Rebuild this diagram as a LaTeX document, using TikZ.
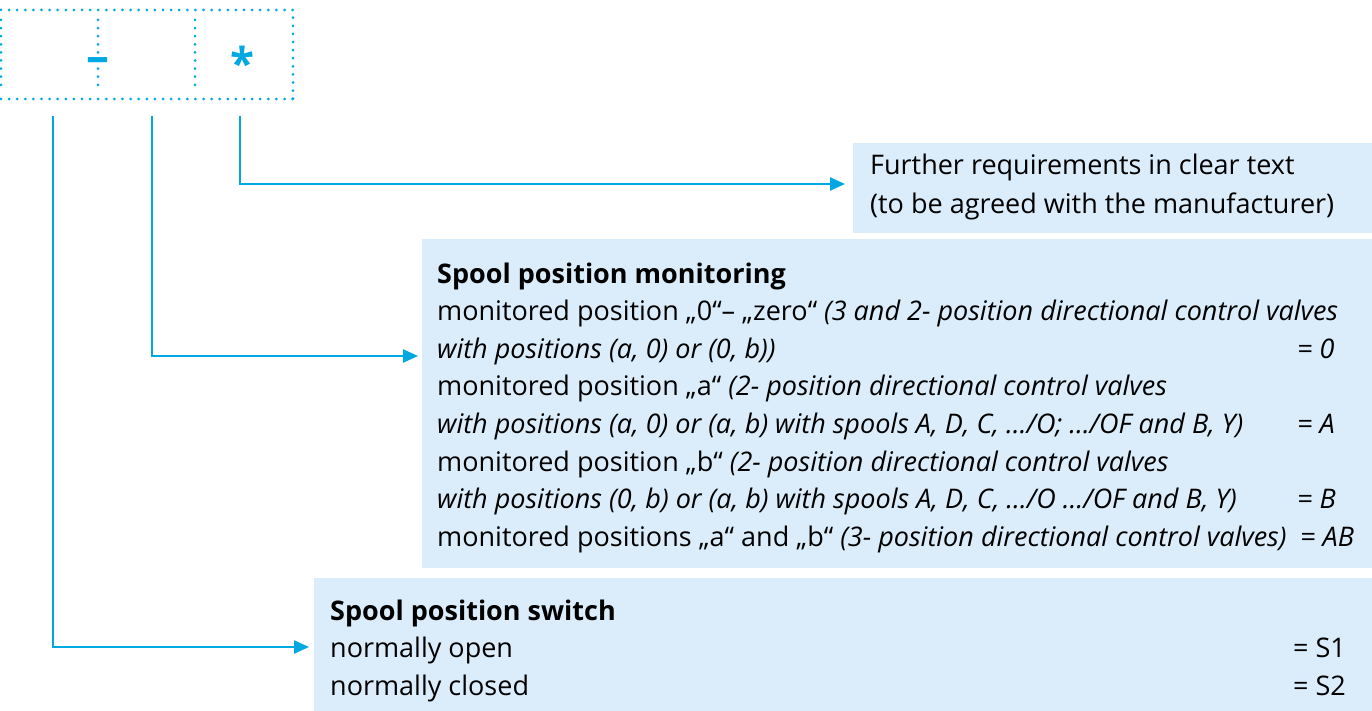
\documentclass[tikz,border=0pt]{standalone}
\usepackage{fontspec}
\setmainfont{Open Sans}
\usepackage{xcolor}
\usetikzlibrary{arrows.meta, positioning}

\definecolor{codeblue}{RGB}{0,168,226}
\definecolor{boxblue}{RGB}{219,237,250}

\begin{document}
\begin{tikzpicture}[x = 1pt, y = -1pt,
						link/.style = {draw = codeblue, line width = 2.4pt, -{Triangle[length = 15pt, width = 13pt]}},
						infobox/.style = {fill = boxblue, anchor = north west, inner sep = 0pt},
						txt/.style = {anchor = base west, inner sep = 0pt, font = \fontsize{27}{32}\selectfont},
						fielddots/.style = {draw = codeblue, line width = 3pt, line cap = round, dash pattern = on 0pt off 8.1pt},
						]
	
		% Page frame
		\useasboundingbox (0, 0) rectangle (1372, 711);
		
		% Code field
		\draw[fielddots] (1, 10) -- (293, 10) -- (293, 99);
		\draw[fielddots] (1, 99) -- (293, 99);
		\draw[fielddots] (1, 20) -- (1, 88);
		\draw[fielddots] (98, 20) -- (98, 88);
		\draw[fielddots] (195, 20) -- (195, 88);
		\node[text = codeblue, font = \fontsize{46}{46}\selectfont\bfseries] (dashsign) at (98, 65) {–};
		\node[text = codeblue, font = \fontsize{44}{44}\selectfont\bfseries] (starsign) at (242, 63) {*};
		
		% Connector start points
		\coordinate (fieldA) at (53, 116);
		\coordinate (fieldB) at (152, 116);
		\coordinate (fieldC) at (240, 116);
		
		% Info boxes
		\node[infobox, minimum width = 519pt, minimum height = 90pt] (reqbox) at (853, 143) {};
		\node[infobox, minimum width = 950pt, minimum height = 329pt] (monbox) at (422, 239) {};
		\node[infobox, minimum width = 1058pt, minimum height = 133pt] (switchbox) at (314, 578) {};
		
		% Further requirements
		\node[txt] (req1) at ([xshift = 17pt, yshift = -32pt]reqbox.north west) {Further requirements in clear text};
		\node[txt] (req2) at ([yshift = -38.5pt]req1.base west) {(to be agreed with the manufacturer)};
		
		% Spool position monitoring
		\node[txt] (mon0) at ([xshift = 15pt, yshift = -44pt]monbox.north west) {\bfseries Spool position monitoring};
		\node[txt] (mon1) at ([yshift = -37.6pt]mon0.base west) {monitored position „0“– „zero“ \textit{(3 and 2- position directional control valves}};
		\node[txt] (mon2) at ([yshift = -37.6pt]mon1.base west) {\itshape with positions (a, 0) or (0, b))};
		\node[txt] (mon3) at ([yshift = -37.6pt]mon2.base west) {monitored position „a“ \textit{(2- position directional control valves}};
		\node[txt] (mon4) at ([yshift = -37.6pt]mon3.base west) {\itshape with positions (a, 0) or (a, b) with spools A, D, C, …/O; …/OF and B, Y)};
		\node[txt] (mon5) at ([yshift = -37.6pt]mon4.base west) {monitored position „b“ \textit{(2- position directional control valves}};
		\node[txt] (mon6) at ([yshift = -37.6pt]mon5.base west) {\itshape with positions (0, b) or (a, b) with spools A, D, C, …/O …/OF and B, Y)};
		\node[txt] (mon7) at ([yshift = -37.6pt]mon6.base west) {monitored positions „a“ and „b“ \textit{(3- position directional control valves)}};
		
		\node[txt] (monval0) at ([xshift = 860pt]mon2.base west) {\itshape = 0};
		\node[txt] (monvalA) at ([xshift = 860pt]mon4.base west) {\itshape = A};
		\node[txt] (monvalB) at ([xshift = 860pt]mon6.base west) {\itshape = B};
		\node[txt] (monvalAB) at ([xshift = 863pt]mon7.base west) {\itshape = AB};
		
		% Spool position switch
		\node[txt] (sw0) at ([xshift = 16pt, yshift = -42pt]switchbox.north west) {\bfseries Spool position switch};
		\node[txt] (sw1) at ([yshift = -37.6pt]sw0.base west) {normally open};
		\node[txt] (sw2) at ([yshift = -37.6pt]sw1.base west) {normally closed};
		\node[txt] (swval1) at ([xshift = 963pt]sw1.base west) {= S1};
		\node[txt] (swval2) at ([xshift = 963pt]sw2.base west) {= S2};
		
		% Connectors
		\draw[link, shorten > = 8pt] (fieldC) |- ([yshift = -41pt]reqbox.north west);
		\draw[link, shorten > = 4pt] (fieldB) |- ([yshift = -117pt]monbox.north west);
		\draw[link, shorten > = 5pt] (fieldA) |- ([yshift = -69pt]switchbox.north west);
		
	\end{tikzpicture}
\end{document}
